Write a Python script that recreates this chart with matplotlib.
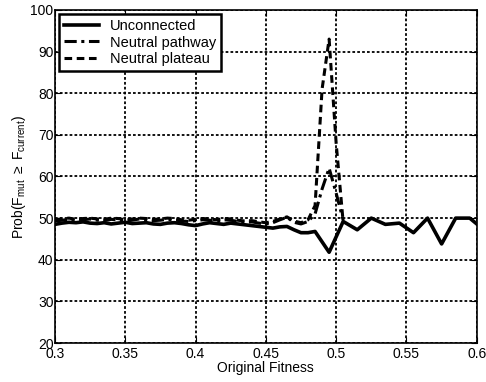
import numpy as np
import matplotlib
matplotlib.use("Agg")
import matplotlib.pyplot as plt
from matplotlib.ticker import FormatStrFormatter

plt.rcParams['font.family'] = ['Liberation Sans', 'DejaVu Sans']
plt.rcParams['mathtext.fontset'] = 'custom'
plt.rcParams['mathtext.rm'] = 'Liberation Sans'
plt.rcParams['mathtext.it'] = 'Liberation Sans'

# data
x_left = [0.300, 0.305, 0.310, 0.315, 0.320, 0.325, 0.330, 0.335, 0.340, 0.345,
          0.350, 0.355, 0.360, 0.365, 0.370, 0.375, 0.380, 0.385, 0.390, 0.395,
          0.400, 0.405, 0.410, 0.415, 0.420, 0.425, 0.430, 0.435, 0.440, 0.445,
          0.450, 0.455, 0.460, 0.465, 0.470, 0.475, 0.480, 0.485]
x_right = [0.495, 0.505, 0.515, 0.525, 0.535, 0.545, 0.555, 0.565, 0.575,
           0.585, 0.595, 0.600]
unconnected = [48.5, 48.8, 49.0, 48.9, 49.1, 48.8, 48.7, 48.9, 48.6, 48.8,
               49.0, 48.7, 48.8, 48.9, 48.6, 48.5, 48.8, 48.9, 48.7, 48.4,
               48.2, 48.6, 48.9, 48.7, 48.5, 48.8, 48.6, 48.4, 48.2, 48.0,
               47.8, 47.6, 47.9, 48.0, 47.2, 46.5, 46.5, 46.8,
               41.8, 49.2, 47.2, 50.0, 48.5, 48.8, 46.5, 50.0, 43.8,
               50.0, 50.0, 48.6]

x_neutral = x_left + [0.490, 0.495, 0.500, 0.505]
pathway = [49.3, 49.5, 49.7, 49.4, 49.6, 49.8, 49.5, 49.4, 49.7, 49.6,
           49.3, 49.5, 49.8, 49.6, 49.4, 49.5, 49.7, 49.6, 49.3, 49.2,
           49.4, 49.6, 49.5, 49.3, 49.6, 49.5, 49.2, 49.0, 49.1, 48.8,
           48.6, 48.9, 49.6, 50.2, 49.0, 48.6, 49.2, 51.0,
           57.0, 62.0, 56.0, 49.5]
plateau = [49.6, 49.8, 50.0, 49.7, 49.9, 50.0, 49.8, 49.7, 50.0, 49.9,
           49.6, 49.8, 50.0, 49.9, 49.7, 49.8, 50.0, 49.9, 49.6, 49.5,
           49.7, 49.9, 49.8, 49.6, 49.9, 49.8, 49.5, 49.3, 49.4, 49.1,
           48.9, 49.2, 49.8, 50.3, 49.3, 48.9, 49.6, 53.0,
           81.0, 93.0, 68.0, 49.0]

fig = plt.figure(figsize=(4.86, 3.82), dpi=100)
ax = fig.add_axes([0.113, 0.102, 0.868, 0.872])

ax.plot(x_left + x_right, unconnected, color='black', lw=2.6, ls='-',
        label='Unconnected')
ax.plot(x_neutral, pathway, color='black', lw=2.2, ls=(0, (4, 1.5, 1, 1.5)),
        label='Neutral pathway')
ax.plot(x_neutral, plateau, color='black', lw=2.2, ls=(0, (2.5, 1.5)),
        label='Neutral plateau')

ax.set_xlim(0.3, 0.6)
ax.set_ylim(20, 100)
ax.set_xticks(np.arange(0.3, 0.601, 0.05))
ax.set_yticks(np.arange(20, 101, 10))
ax.xaxis.set_major_formatter(FormatStrFormatter('%g'))
ax.grid(True, color='black', ls=(0, (1.5, 1.2)), lw=1.3)
ax.tick_params(direction='in', top=True, right=True, labelsize=10, length=4)
ax.tick_params(axis='x', pad=3)
ax.tick_params(axis='y', pad=1)
for s in ax.spines.values():
    s.set_linewidth(1.2)

ax.set_xlabel('Original Fitness', fontsize=10, labelpad=0)
ax.set_ylabel(r'Prob(F$_{\mathrm{mut}}$ $\geq$ F$_{\mathrm{current}}$)',
              fontsize=10, labelpad=2)

leg = ax.legend(loc='upper left', fontsize=10.5, handlelength=2.4,
                fancybox=False, framealpha=1, borderaxespad=0.3,
                labelspacing=0.15, borderpad=0.35, handletextpad=0.7)
leg.get_frame().set_edgecolor('black')
leg.get_frame().set_linewidth(1.8)

fig.savefig('out.png', dpi=100)
